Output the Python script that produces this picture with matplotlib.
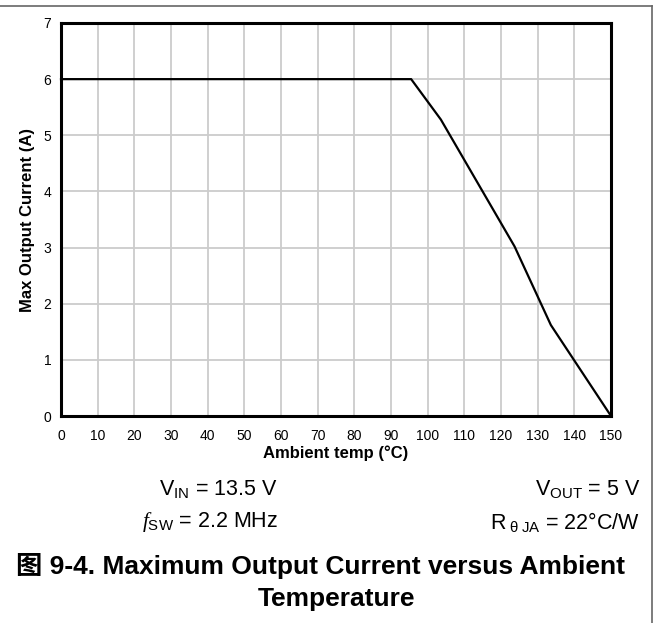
import matplotlib
matplotlib.use("Agg")
import matplotlib.pyplot as plt
from matplotlib.lines import Line2D

plt.rcParams['font.family'] = ['Liberation Sans', 'Noto Sans CJK SC', 'DejaVu Sans']
plt.rcParams['mathtext.fontset'] = 'custom'
plt.rcParams['mathtext.rm'] = 'Liberation Sans'
plt.rcParams['mathtext.it'] = 'Liberation Serif:italic'
plt.rcParams['mathtext.bf'] = 'Liberation Sans:bold'

temp_c = [0, 95.5, 103.6, 123.7, 133.6, 150]
max_current_a = [6, 6, 5.28, 3.02, 1.62, 0]
x_ticks = list(range(0, 151, 10))
y_ticks = list(range(0, 8))

fig = plt.figure(figsize=(6.55, 6.23), dpi=100)
ax = fig.add_axes([61/655, (623-416)/623, 550/655, 393/623])
ax.plot(temp_c, max_current_a, color='black', lw=1.6, clip_on=False, zorder=3)
ax.set_xlim(0, 150)
ax.set_ylim(0, 7)
ax.set_xticks(x_ticks)
ax.set_yticks(y_ticks)
ax.grid(True, color='#cccccc', lw=1.3)
ax.set_axisbelow(True)
for s in ax.spines.values():
    s.set_linewidth(2.2)
    s.set_color('black')
ax.tick_params(axis='x', length=0, labelsize=10, pad=9)
ax.tick_params(axis='y', length=0, labelsize=10, pad=7)
ax.set_xlabel('Ambient temp (°C)', fontsize=12, fontweight='bold', labelpad=2)
ax.set_ylabel('Max Output Current (A)', fontsize=12, fontweight='bold', labelpad=6)

fs = 15.5
fig.text(278/655, 1-489/623, r'V$_{\mathrm{IN}}$ = 13.5 V', ha='right', va='center', fontsize=fs)
fig.text(278/655, 1-522/623, r'$\mathit{f}_{\mathrm{SW}}$ = 2.2 MHz', ha='right', va='center', fontsize=fs)
fig.text(640/655, 1-489/623, r'V$_{\mathrm{OUT}}$ = 5 V', ha='right', va='center', fontsize=fs)
fig.text(640/655, 1-522/623, r'R$_{\ \mathrm{θ}\ \mathrm{JA}}$ = 22°C/W', ha='right', va='center', fontsize=fs)

fig.text(321/655, 1-566/623, '图 9-4. Maximum Output Current versus Ambient', ha='center', va='center',
         fontsize=19, fontweight='bold')
fig.text(336/655, 1-599/623, 'Temperature', ha='center', va='center', fontsize=19, fontweight='bold')

fig.add_artist(Line2D([0, 652/655], [1-6/623, 1-6/623], transform=fig.transFigure, color='#666666', lw=1.2))
fig.add_artist(Line2D([652/655, 652/655], [0, 1-6/623], transform=fig.transFigure, color='#666666', lw=1.2))

fig.savefig('out.png', dpi=100)
